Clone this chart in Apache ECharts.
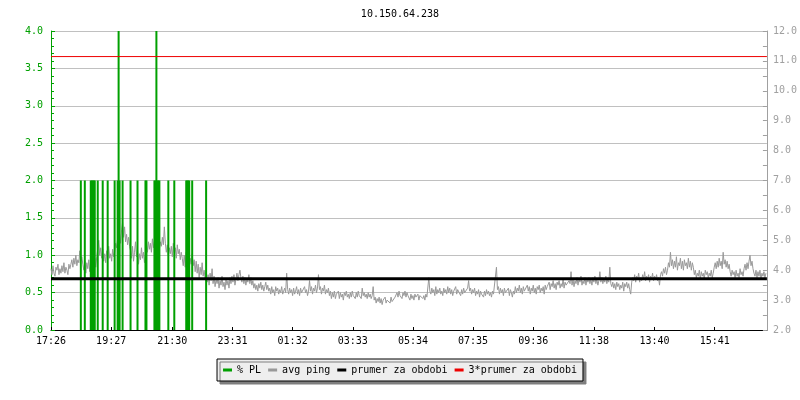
<!DOCTYPE html>
<html>
<head>
<meta charset="utf-8">
<script src="https://cdn.jsdelivr.net/npm/echarts@6/dist/echarts.min.js"></script>
<style>
html,body{margin:0;padding:0;background:#fff;}
#c{width:800px;height:400px;}
</style>
</head>
<body>
<div id="c"></div>
<script>
const chartTitle = '10.150.64.238';
const xTickLabels = ['17:26','19:27','21:30','23:31','01:32','03:33','05:34','07:35','09:36','11:38','13:40','15:41'];
const spanMinutes = 1440;
const pingStepMinutes = 2;
const pingValues = [
4.05,3.85,4.15,3.9,3.8,4.1,4.0,4.2,3.85,4.05,3.9,4.15,3.95,4.25,3.9,4.1,4.0,3.85,4.2,4.05,
4.2,4.35,4.1,4.4,4.2,4.5,4.15,4.35,4.25,4.65,4.3,4.45,4.2,4.0,4.3,3.9,4.25,4.05,4.35,3.95,
4.2,3.9,4.3,4.0,4.4,4.1,4.45,4.7,5.0,4.5,4.75,4.4,4.7,4.3,4.55,4.25,4.65,4.35,4.8,4.4,
4.55,4.3,4.7,4.45,4.6,4.9,4.75,5.05,4.8,5.2,4.9,5.35,5.6,5.1,5.45,4.95,5.2,4.85,5.1,4.8,
4.65,4.4,4.8,4.3,4.6,4.95,4.45,4.7,4.2,4.55,4.35,4.75,4.4,4.6,4.25,4.5,4.85,4.6,4.95,4.7,
4.9,4.6,5.05,4.75,4.95,4.7,5.3,4.85,5.0,4.7,4.95,4.8,5.1,4.85,5.45,4.9,4.6,4.85,4.5,4.75,
4.55,4.8,4.45,4.9,4.6,4.75,4.4,4.85,4.55,4.7,4.35,4.6,4.4,4.15,4.5,4.1,4.6,4.25,4.45,4.05,
4.4,4.2,4.55,4.15,4.35,3.95,4.3,3.9,4.2,3.75,4.1,3.85,4.25,3.8,4.0,3.7,3.95,3.6,3.85,3.5,
3.9,3.65,4.05,3.55,3.8,3.45,3.7,3.55,3.75,3.4,3.65,3.5,3.8,3.45,3.6,3.35,3.7,3.5,3.65,3.4,
3.75,3.55,3.8,3.6,3.85,3.5,3.7,3.9,3.65,3.85,4.0,3.75,3.6,3.8,3.55,3.75,3.5,3.7,3.6,3.85,
3.55,3.75,3.5,3.65,3.4,3.55,3.35,3.5,3.3,3.55,3.4,3.6,3.35,3.5,3.3,3.45,3.6,3.35,3.5,3.3,
3.4,3.2,3.45,3.25,3.35,3.15,3.45,3.3,3.4,3.2,3.35,3.25,3.45,3.2,3.3,3.4,3.25,3.9,3.35,3.2,
3.4,3.25,3.35,3.15,3.4,3.2,3.3,3.45,3.2,3.35,3.15,3.4,3.25,3.3,3.2,3.45,3.25,3.35,3.15,3.3,
3.65,3.3,3.45,3.2,3.4,3.3,3.5,3.25,3.4,3.85,3.35,3.45,3.2,3.4,3.3,3.5,3.2,3.35,3.25,3.4,
3.15,3.3,3.05,3.25,3.1,3.3,3.05,3.2,3.15,3.3,3.05,3.25,3.1,3.2,3.0,3.25,3.15,3.3,3.1,3.2,
3.05,3.25,3.1,3.3,3.15,3.2,3.05,3.25,3.1,3.3,3.15,3.2,3.05,3.4,3.15,3.25,3.1,3.2,3.05,3.25,
3.1,3.2,3.05,3.15,3.45,3.0,3.1,2.9,3.05,2.95,3.1,2.9,3.05,2.85,3.0,2.95,3.1,2.9,3.0,2.95,
3.05,2.9,3.1,2.95,3.0,2.9,3.1,3.15,3.25,3.1,3.3,3.15,3.2,3.05,3.25,3.15,3.3,3.1,3.25,3.15,
3.1,3.0,3.2,3.05,3.15,3.0,3.2,3.1,3.05,3.2,3.0,3.15,3.1,3.2,3.05,3.15,3.0,3.2,3.1,3.15,
3.75,3.3,3.2,3.4,3.25,3.35,3.15,3.45,3.2,3.35,3.25,3.4,3.2,3.3,3.15,3.4,3.25,3.35,3.2,3.45,
3.25,3.4,3.2,3.35,3.15,3.3,3.25,3.45,3.2,3.35,3.3,3.4,3.15,3.35,3.2,3.4,3.25,3.3,3.2,3.4,
3.65,3.3,3.4,3.2,3.35,3.25,3.4,3.15,3.3,3.2,3.35,3.1,3.3,3.2,3.25,3.1,3.3,3.15,3.35,3.2,
3.3,3.15,3.25,3.1,3.3,3.2,3.25,3.15,4.1,3.35,3.45,3.2,3.4,3.25,3.35,3.15,3.4,3.25,3.3,3.2,
3.4,3.15,3.35,3.25,3.1,3.3,3.2,3.45,3.25,3.4,3.3,3.5,3.25,3.4,3.2,3.45,3.3,3.35,3.25,3.5,
3.3,3.45,3.2,3.4,3.3,3.5,3.25,3.4,3.2,3.45,3.35,3.5,3.25,3.4,3.3,3.45,3.2,3.5,3.35,3.45,
3.4,3.6,3.35,3.55,3.45,3.65,3.4,3.55,3.35,3.6,3.5,3.65,3.4,3.55,3.45,3.7,3.4,3.6,3.5,3.55,
3.5,3.65,3.55,3.95,3.5,3.7,3.45,3.65,3.55,3.75,3.5,3.7,3.6,3.8,3.5,3.65,3.55,3.75,3.5,3.7,
3.6,3.75,3.55,3.7,3.5,3.75,3.6,3.8,3.55,3.7,3.5,3.65,3.95,3.6,3.75,3.55,3.7,3.6,3.8,3.55,
3.7,3.6,4.1,3.55,3.45,3.6,3.4,3.55,3.35,3.6,3.45,3.55,3.35,3.5,3.4,3.6,3.3,3.55,3.45,3.6,
3.4,3.55,3.35,3.2,3.6,3.75,3.65,3.85,3.6,3.8,3.7,3.9,3.6,3.75,3.65,3.85,3.7,3.95,3.65,3.8,
3.7,3.85,3.6,3.8,3.7,3.9,3.65,3.8,3.7,3.85,3.65,3.75,3.5,3.85,3.95,3.8,4.05,3.9,4.1,3.85,
4.0,4.25,4.1,4.6,4.15,4.35,4.05,4.3,4.1,4.45,4.0,4.25,4.15,4.4,4.05,4.3,4.0,4.35,4.15,4.25,
4.05,4.4,4.1,4.3,4.0,4.25,4.1,3.85,4.0,3.75,3.9,3.8,4.0,3.7,3.95,3.8,3.9,3.7,4.0,3.85,
3.95,3.75,3.9,3.8,4.0,3.75,3.9,4.1,4.25,4.05,4.3,4.1,4.4,4.15,4.3,4.05,4.6,4.2,4.35,4.1,
4.3,4.05,4.2,3.95,3.8,4.0,3.85,3.95,3.75,4.0,3.8,3.9,3.75,4.05,3.85,3.95,3.8,4.05,4.2,4.0,
4.25,4.05,4.3,4.5,4.15,4.3,4.05,3.9,3.8,4.0,3.75,3.95,3.8,4.0,3.7,3.9,3.8,3.95,3.75,3.9
];
const plMinutes = [60,68,80,82,84,86,88,94,104,114,128,134,136,138,144,160,174,190,192,208,210,212,214,216,218,236,248,272,274,276,278,284,312];
const plValues  = [2,2,2,2,2,2,2,2,2,2,2,2,4,2,2,2,2,2,2,2,2,4,2,2,2,2,2,2,2,2,2,2,2];
const prumer = 3.715;
const leftMin = 0, leftMax = 4, leftStep = 0.5;
const rightMin = 2, rightMax = 12, rightStep = 1;
const seriesNames = ['% PL','avg ping','prumer za obdobi','3*prumer za obdobi'];

const FONT = 'DejaVu Sans Mono';
function toMin(s){const p=s.split(':');return +p[0]*60+ +p[1];}
const startMin = toMin(xTickLabels[0]);
const tickValues = xTickLabels.map(s => ((toMin(s) - startMin) % 1440 + 1440) % 1440);
function fmtTime(v){
  const t = Math.round(startMin + v) % 1440;
  const h = Math.floor(t/60), m = t%60;
  return (h<10?'0':'')+h+':'+(m<10?'0':'')+m;
}

const chart = echarts.init(document.getElementById('c'), null, {renderer:'canvas'});
chart.setOption({
  animation:false,
  backgroundColor:'#ffffff',
  title:{text:chartTitle,left:'center',top:4,textStyle:{fontFamily:FONT,fontSize:10,fontWeight:'normal',color:'#000'}},
  legend:{
    data:seriesNames,
    left:'center', top:359,
    padding:[6,6],
    itemGap:7,
    itemWidth:9, itemHeight:3,
    icon:'rect',
    backgroundColor:'#eeeeee',
    borderColor:'#000',
    borderWidth:1,
    shadowColor:'#7f7f7f',
    shadowBlur:0.01,
    shadowOffsetX:3,
    shadowOffsetY:3,
    textStyle:{fontFamily:FONT,fontSize:10,color:'#000'}
  },
  grid:{left:51,right:30,top:31,bottom:70},
  xAxis:{
    type:'value', min:0, max:spanMinutes,
    axisLine:{show:true,lineStyle:{color:'#000',width:1}},
    axisTick:{show:true,inside:true,length:3,customValues:tickValues,lineStyle:{color:'#000'}},
    axisLabel:{customValues:tickValues,formatter:fmtTime,fontFamily:FONT,fontSize:10,color:'#000',margin:6},
    splitLine:{show:false}
  },
  yAxis:[
    {
      type:'value', min:leftMin, max:leftMax, interval:leftStep, position:'left',
      axisLine:{show:true,lineStyle:{color:'#00a000'}},
      axisTick:{show:true,inside:true,length:4,lineStyle:{color:'#00a000'}},
      minorTick:{show:true,splitNumber:5,length:3,lineStyle:{color:'#00a000'}},
      axisLabel:{formatter:v=>v.toFixed(1),fontFamily:FONT,fontSize:10,color:'#00a000',margin:8},
      splitLine:{show:true,lineStyle:{color:'#c0c0c0',width:1}}
    },
    {
      type:'value', min:rightMin, max:rightMax, interval:rightStep, position:'right',
      axisLine:{show:true,lineStyle:{color:'#a0a0a0'}},
      axisTick:{show:true,inside:true,length:4,lineStyle:{color:'#a0a0a0'}},
      minorTick:{show:true,splitNumber:2,length:4,lineStyle:{color:'#a0a0a0'}},
      axisLabel:{formatter:v=>v.toFixed(1),fontFamily:FONT,fontSize:10,color:'#a0a0a0',margin:6},
      splitLine:{show:false}
    }
  ],
  series:[
    {
      name:seriesNames[1], type:'line', yAxisIndex:1, z:2,
      data:pingValues.map((v,i)=>[i*pingStepMinutes,v]),
      symbol:'none', lineStyle:{color:'#999999',width:1}, itemStyle:{color:'#999999'}
    },
    {
      name:seriesNames[0], type:'bar', yAxisIndex:0, z:3,
      data:plMinutes.map((m,i)=>[m,plValues[i]]),
      barWidth:2, itemStyle:{color:'#00a000'}
    },
    {
      name:seriesNames[2], type:'line', yAxisIndex:1, z:4,
      data:[[0,prumer],[spanMinutes,prumer]],
      symbol:'none', lineStyle:{color:'#000',width:3}, itemStyle:{color:'#000'}
    },
    {
      name:seriesNames[3], type:'line', yAxisIndex:1, z:4,
      data:[[0,3*prumer],[spanMinutes,3*prumer]],
      symbol:'none', lineStyle:{color:'#ee0000',width:1}, itemStyle:{color:'#ee0000'}
    }
  ]
});
</script>
</body>
</html>
